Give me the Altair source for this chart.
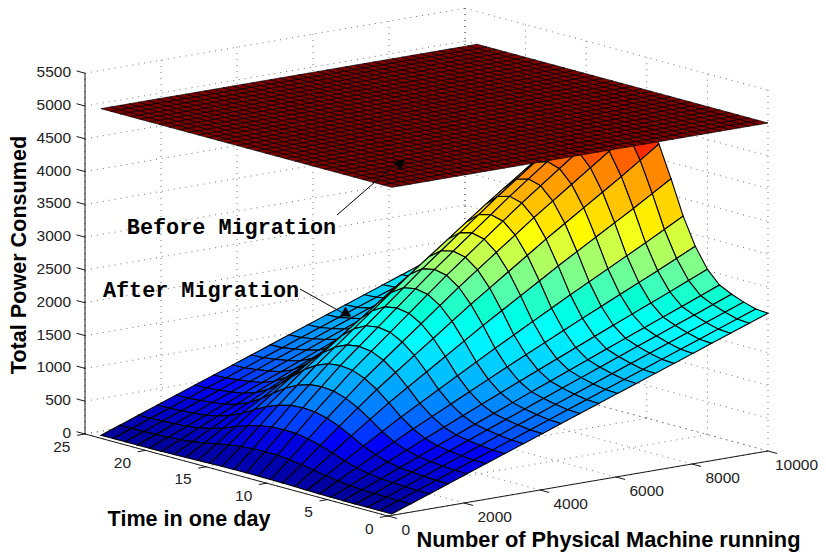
import altair as alt

# ---- data ----
machines = [100 + 495 * k for k in range(21)]
hours = list(range(25))
after_z = [
 [21,125,229,333,437,541,645,749,853,957,1061,1165,1269,1372,1476,1580,1684,1788,1892,1996,2100],
 [21,126,231,336,441,546,651,755,860,965,1070,1174,1279,1383,1487,1592,1696,1801,1906,2010,2115],
 [22,130,238,347,455,563,671,778,886,993,1101,1208,1315,1421,1529,1635,1742,1849,1956,2063,2170],
 [22,135,248,361,473,586,697,808,919,1030,1141,1251,1361,1471,1581,1691,1800,1910,2019,2130,2240],
 [23,141,260,379,497,615,730,846,961,1077,1192,1306,1421,1534,1649,1762,1875,1988,2101,2216,2330],
 [25,154,286,417,546,675,800,925,1050,1175,1300,1423,1546,1668,1791,1912,2033,2153,2274,2397,2520],
 [28,175,326,477,624,771,911,1051,1191,1331,1471,1608,1744,1880,2016,2149,2282,2414,2547,2684,2820],
 [32,204,382,559,731,903,1063,1224,1384,1545,1705,1860,2015,2169,2324,2473,2622,2771,2920,3075,3230],
 [38,241,452,663,866,1069,1256,1442,1629,1815,2002,2180,2358,2535,2714,2884,3054,3224,3394,3572,3750],
 [42,274,517,759,991,1223,1433,1644,1854,2065,2275,2475,2675,2874,3074,3263,3452,3641,3830,4030,4230],
 [46,300,567,833,1087,1341,1570,1799,2028,2257,2486,2703,2919,3135,3351,3555,3759,3963,4167,4384,4600],
 [48,316,598,879,1147,1415,1655,1896,2136,2377,2617,2844,3071,3297,3524,3737,3950,4163,4376,4603,4830],
 [49,321,607,893,1165,1437,1681,1925,2169,2413,2657,2887,3117,3346,3576,3792,4008,4224,4440,4670,4900],
 [48,316,598,879,1147,1415,1655,1896,2136,2377,2617,2844,3071,3297,3524,3737,3950,4163,4376,4603,4830],
 [46,300,567,833,1087,1341,1570,1799,2028,2257,2486,2703,2919,3135,3351,3555,3759,3963,4167,4384,4600],
 [42,274,517,759,991,1223,1433,1644,1854,2065,2275,2475,2675,2874,3074,3263,3452,3641,3830,4030,4230],
 [38,241,452,663,866,1069,1256,1442,1629,1815,2002,2180,2358,2535,2714,2884,3054,3224,3394,3572,3750],
 [32,204,382,559,731,903,1063,1224,1384,1545,1705,1860,2015,2169,2324,2473,2622,2771,2920,3075,3230],
 [28,175,326,477,624,771,911,1051,1191,1331,1471,1608,1744,1880,2016,2149,2282,2414,2547,2684,2820],
 [25,154,286,417,546,675,800,925,1050,1175,1300,1423,1546,1668,1791,1912,2033,2153,2274,2397,2520],
 [23,141,260,379,497,615,730,846,961,1077,1192,1306,1421,1534,1649,1762,1875,1988,2101,2216,2330],
 [22,135,248,361,473,586,697,808,919,1030,1141,1251,1361,1471,1581,1691,1800,1910,2019,2130,2240],
 [22,130,238,347,455,563,671,778,886,993,1101,1208,1315,1421,1529,1635,1742,1849,1956,2063,2170],
 [21,126,231,336,441,546,651,755,860,965,1070,1174,1279,1383,1487,1592,1696,1801,1906,2010,2115],
 [21,125,229,333,437,541,645,749,853,957,1061,1165,1269,1372,1476,1580,1684,1788,1892,1996,2100],
]
before_level = 5000
before_machines = [100 + 247.5 * k for k in range(41)]
before_hours = [0.8 * k for k in range(31)]

x_ticks = [0, 2000, 4000, 6000, 8000, 10000]
t_ticks = [0, 5, 10, 15, 20, 25]
z_ticks = [0, 500, 1000, 1500, 2000, 2500, 3000, 3500, 4000, 4500, 5000, 5500]

jet_stops = [0, 625, 1875, 3125, 4375, 5000]
jet_colors = ["#00008f", "#0000ff", "#00ffff", "#ffff00", "#ff0000", "#800000"]

x_title = "Number of Physical Machine running"
t_title = "Time in one day"
z_title = "Total Power Consumed"
note_before = "Before Migration"
note_after = "After Migration"

# ---- 3D view (orthographic), in page pixels ----
OX, OY = 388 - 8, 516 - 8
def proj(x, t, z):
    return (round(OX + 0.038 * x - 12.12 * t, 2),
            round(OY - 0.0065 * x - 3.28 * t - 0.0656 * z, 2))

def quad(c, z):
    ring = [list(proj(*p)) for p in c]
    ring.append(ring[0])
    return {"type": "Feature", "geometry": {"type": "Polygon", "coordinates": [ring]},
            "properties": {"z": z}}

surface = []
for i in range(len(hours) - 2, -1, -1):
    for j in range(len(machines) - 2, -1, -1):
        c = [(machines[j], hours[i], after_z[i][j]),
             (machines[j + 1], hours[i], after_z[i][j + 1]),
             (machines[j + 1], hours[i + 1], after_z[i + 1][j + 1]),
             (machines[j], hours[i + 1], after_z[i + 1][j])]
        surface.append(quad(c, sum(p[2] for p in c) / 4))

plane = []
for i in range(len(before_hours) - 1):
    for j in range(len(before_machines) - 1):
        c = [(before_machines[j], before_hours[i], before_level),
             (before_machines[j + 1], before_hours[i], before_level),
             (before_machines[j + 1], before_hours[i + 1], before_level),
             (before_machines[j], before_hours[i + 1], before_level)]
        plane.append(quad(c, before_level))

def seg(a, b):
    p, q = proj(*a), proj(*b)
    return {"a": p[0], "b": p[1], "c": q[0], "d": q[1]}

XM, TM, ZM = 10000, 25, 5500
grid = []
for x in x_ticks:
    grid.append(seg((x, 0, 0), (x, TM, 0)))
    grid.append(seg((x, TM, 0), (x, TM, ZM)))
for t in t_ticks:
    grid.append(seg((0, t, 0), (XM, t, 0)))
    grid.append(seg((XM, t, 0), (XM, t, ZM)))
for z in z_ticks:
    grid.append(seg((0, TM, z), (XM, TM, z)))
    grid.append(seg((XM, TM, z), (XM, 0, z)))

axes = [seg((0, TM, 0), (0, TM, ZM)), seg((0, 0, 0), (0, TM, 0)), seg((0, 0, 0), (XM, 0, 0))]
for x in x_ticks:
    axes.append(seg((x, 0, 0), (x, -0.75, 0)))
for t in t_ticks:
    axes.append(seg((0, t, 0), (-210, t, 0)))
for z in z_ticks:
    axes.append(seg((0, TM, z), (0, TM + 0.7, z)))

def rules(rows, **kw):
    return alt.Chart(alt.Data(values=rows)).mark_rule(**kw).encode(
        x=alt.X("a:Q", scale=None, axis=None), y=alt.Y("b:Q", scale=None, axis=None),
        x2="c:Q", y2="d:Q")

def texts(rows, **kw):
    return alt.Chart(alt.Data(values=rows)).mark_text(**kw).encode(
        x=alt.X("px:Q", scale=None, axis=None), y=alt.Y("py:Q", scale=None, axis=None),
        text="s:N")

def tlab(p, dx, dy, s):
    return {"px": p[0] + dx, "py": p[1] + dy, "s": s}

# the last x label is pulled in so that it stays inside the page
lab_x = [tlab(proj(x, 0, 0), 13.5 if x < 10000 else 7, 13.5, str(x)) for x in x_ticks]
lab_t = [tlab(proj(0, t, 0), -14.5, 12.5, str(t)) for t in t_ticks]
lab_z = [tlab(proj(0, TM, z), -14, -1, str(z)) for z in z_ticks]

sans = "Liberation Sans"
grid_layer = rules(grid, color="#333333", strokeDash=[1, 5], strokeWidth=0.7)
axis_layer = rules(axes, color="black", strokeWidth=0.9)
tick_x = texts(lab_x, font=sans, fontSize=15.5, align="left", baseline="middle", color="#222222")
tick_t = texts(lab_t, font=sans, fontSize=15.5, align="right", baseline="middle", color="#222222")
tick_z = texts(lab_z, font=sans, fontSize=15.5, align="right", baseline="middle", color="#222222")

surf_layer = alt.Chart(alt.Data(values=surface)).mark_geoshape(stroke="black", strokeWidth=1.1).encode(
    fill=alt.Fill("properties.z:Q", legend=None,
                  scale=alt.Scale(domain=jet_stops, range=jet_colors, clamp=True))
).project(type="identity", scale=1, translate=[0, 0])

plane_layer = alt.Chart(alt.Data(values=plane)).mark_geoshape(
    stroke="black", strokeWidth=0.7, fill="#800000"
).project(type="identity", scale=1, translate=[0, 0])

ttl_a = texts([{"px": 600.5, "py": 531.5, "s": x_title}], font=sans, fontSize=21.8, fontWeight="bold",
              align="center", baseline="middle", color="black")
ttl_b = texts([{"px": 181, "py": 512, "s": t_title}], font=sans, fontSize=21.6, fontWeight="bold",
              align="center", baseline="middle", color="black")
ttl_c = texts([{"px": 12, "py": 247, "s": z_title}], font=sans, fontSize=21.6, fontWeight="bold",
              align="center", baseline="middle", angle=270, color="black")

mono = "Liberation Mono"
note_a = texts([{"px": 223.5, "py": 219, "s": note_before}], font=mono, fontSize=21.8, fontWeight="bold",
               align="center", baseline="middle", color="black")
note_b = texts([{"px": 193, "py": 282, "s": note_after}], font=mono, fontSize=21.8, fontWeight="bold",
               align="center", baseline="middle", color="black")
arrows = rules([{"a": 329, "b": 207, "c": 390, "d": 154}, {"a": 292, "b": 281, "c": 342, "d": 309}],
               color="black", strokeWidth=1)
heads = alt.Chart(alt.Data(values=[{"px": 393, "py": 155, "r": 49}, {"px": 339, "py": 306, "r": 119}])).mark_point(
    shape="triangle-up", filled=True, color="black", opacity=1, size=130
).encode(x=alt.X("px:Q", scale=None, axis=None), y=alt.Y("py:Q", scale=None, axis=None),
         angle=alt.Angle("r:Q", scale=None))

chart = alt.layer(grid_layer, axis_layer, tick_x, tick_t, tick_z, surf_layer, plane_layer,
                  ttl_a, ttl_b, ttl_c, note_a, note_b, arrows, heads).properties(
    width=810, height=544, autosize=alt.AutoSizeParams(type="none"), padding=0,
    background="white"
).configure_view(stroke=None)

chart.save("out.html", embed_options={"renderer": "svg", "actions": False})
